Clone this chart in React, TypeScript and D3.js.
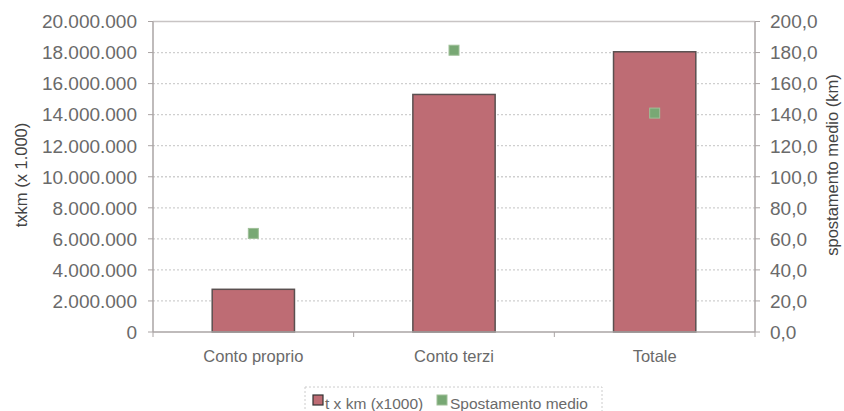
import React from "react";
import * as d3 from "d3";

const categories = ["Conto proprio", "Conto terzi", "Totale"];
const tkm = [2750000, 15300000, 18050000];
const spostamento = [63.5, 181.5, 141.0];
const leftTicks = [0, 2000000, 4000000, 6000000, 8000000, 10000000, 12000000, 14000000, 16000000, 18000000, 20000000];
const rightTicks = [0, 20, 40, 60, 80, 100, 120, 140, 160, 180, 200];
const legendLabels = ["t x km (x1000)", "Spostamento medio"];

const W = 844, H = 411;
const M = { left: 153, right: 755, top: 21.5, bottom: 332 };
const font = "'Liberation Sans', Arial, sans-serif";
const textColor = "#6a6a6a";

const fmtLeft = (v: number) => (v === 0 ? "0" : d3.format(",")(v).replace(/,/g, "."));
const fmtRight = (v: number) => v.toFixed(1).replace(".", ",");

export default function App() {
  const x = d3.scaleBand<string>().domain(categories).range([M.left, M.right]).paddingInner(0.59).paddingOuter(0.295);
  const xc = d3.scaleBand<string>().domain(categories).range([M.left, M.right]);
  const yL = d3.scaleLinear().domain([0, 20000000]).range([M.bottom, M.top]);
  const yR = d3.scaleLinear().domain([0, 200]).range([M.bottom, M.top]);
  const sq = 10;
  return (
    <svg width={W} height={H} style={{ position: "absolute", left: 0, top: 0, background: "#fff" }} fontFamily={font}>
      {leftTicks.slice(1, -1).map((t) => (
        <line key={"g" + t} x1={M.left} x2={M.right} y1={yL(t)} y2={yL(t)} stroke="#cfcfcf" strokeDasharray="2,2" strokeWidth={1.3} />
      ))}
      <line x1={M.left} x2={M.right} y1={M.top} y2={M.top} stroke="#c8c4c4" strokeWidth={1.5} />
      <line x1={M.left} x2={M.left} y1={M.top} y2={M.bottom} stroke="#aaa4a4" strokeWidth={1.5} />
      <line x1={M.right} x2={M.right} y1={M.top} y2={M.bottom} stroke="#aaa4a4" strokeWidth={1.5} />
      {leftTicks.map((t) => (
        <g key={"l" + t}>
          <line x1={M.left - 5} x2={M.left} y1={yL(t)} y2={yL(t)} stroke="#aaa4a4" />
          <text x={137} y={yL(t)} dy="0.36em" textAnchor="end" fontSize={19} fill={textColor}>{fmtLeft(t)}</text>
        </g>
      ))}
      {rightTicks.map((t) => (
        <g key={"r" + t}>
          <line x1={M.right} x2={M.right + 5} y1={yR(t)} y2={yR(t)} stroke="#aaa4a4" />
          <text x={770} y={yR(t)} dy="0.36em" textAnchor="start" fontSize={19} fill={textColor}>{fmtRight(t)}</text>
        </g>
      ))}
      {categories.map((c, i) => (
        <rect key={c} x={x(c)} y={yL(tkm[i])} width={x.bandwidth()} height={M.bottom - yL(tkm[i])} fill="#be6c74" stroke="#5a5050" strokeWidth={1.5} />
      ))}
      <line x1={M.left} x2={M.right} y1={M.bottom} y2={M.bottom} stroke="#aaa4a4" strokeWidth={1.5} />
      {categories.map((c) => (
        <line key={"t" + c} x1={xc(c)!} x2={xc(c)!} y1={M.bottom} y2={M.bottom + 5} stroke="#aaa4a4" />
      ))}
      <line x1={M.right} x2={M.right} y1={M.bottom} y2={M.bottom + 5} stroke="#aaa4a4" />
      {categories.map((c) => (
        <text key={"c" + c} x={xc(c)! + xc.bandwidth() / 2} y={362} textAnchor="middle" fontSize={16.5} fill={textColor}>{c}</text>
      ))}
      {categories.map((c, i) => (
        <rect key={"p" + c} x={xc(c)! + xc.bandwidth() / 2 - sq / 2} y={yR(spostamento[i]) - sq / 2} width={sq} height={sq} fill="#78a874" stroke="#9fbf98" strokeWidth={1} />
      ))}
      <text transform={`translate(27,175) rotate(-90)`} textAnchor="middle" fontSize={16.5} fill="#444">txkm (x 1.000)</text>
      <text transform={`translate(838,165) rotate(-90)`} textAnchor="middle" fontSize={16.5} fill="#444">spostamento medio (km)</text>
      <rect x={305} y={387} width={297} height={30} fill="none" stroke="#ccc" strokeDasharray="2,2" />
      <rect x={313} y={395} width={10} height={10} fill="#be6c74" stroke="#333" strokeWidth={1.2} />
      <text x={325} y={409} fontSize={15.5} fill={textColor}>{legendLabels[0]}</text>
      <rect x={437} y={395} width={10} height={10} fill="#78a874" stroke="#9fbf98" />
      <text x={450} y={409} fontSize={15.5} fill={textColor}>{legendLabels[1]}</text>
    </svg>
  );
}
